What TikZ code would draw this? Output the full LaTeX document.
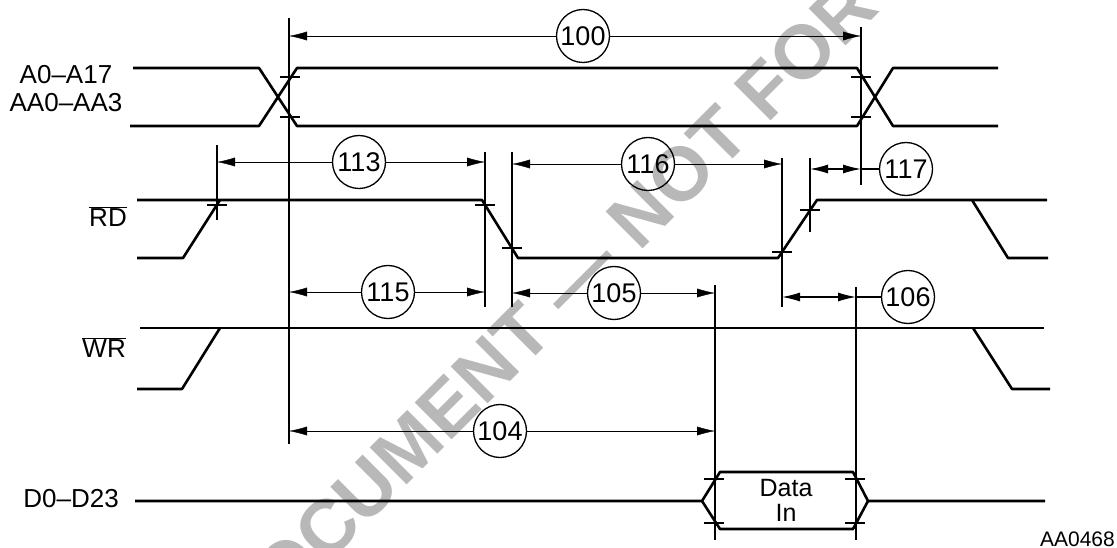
\documentclass[tikz,border=0pt]{standalone}
\usepackage{fontspec}
\setmainfont{Liberation Sans}
\usetikzlibrary{arrows.meta}

\newcommand{\ovl}[1]{$\overline{\mbox{#1}}$}

\begin{document}
\begin{tikzpicture}[x=1pt, y=-1pt, >={Latex[length=18pt, width=9pt]},
	sig/.style={line width=2.6pt, line join=round},
	guide/.style={line width=1.2pt},
	num/.style={circle, draw, line width=1.3pt, minimum size=53pt, inner sep=0pt, font=\fontsize{27}{27}\selectfont},
	lbl/.style={font=\fontsize{26}{28}\selectfont, inner sep=0pt}]
	\useasboundingbox (0,0) rectangle (1117,548);
	% watermark
	\node[rotate=45, text=black!28, font=\fontsize{76}{76}\selectfont\bfseries] (mark) at (545,310) {DOCUMENT --- NOT FOR};

	% signal names
	\node[lbl, align=center] (addr) at (66,89) {A0--A17\\AA0--AA3};
	\node[lbl, anchor=east] (rd) at (127,217) {\ovl{RD}};
	\node[lbl, anchor=east] (wr) at (126,348) {\ovl{WR}};
	\node[lbl, anchor=east] (dbus) at (119,499) {D0--D23};

	% address bus
	\draw[sig] (133,68) -- (259,68) -- (297,126) -- (857,126) -- (893,68) -- (998,68);
	\draw[sig] (130,126) -- (259,126) -- (297,68) -- (857,68) -- (893,126) -- (998,126);
	% RD
	\draw[sig] (137,258) -- (183,258) -- (220,200);
	\draw[sig] (137,200) -- (482,200) -- (518,258) -- (778,258) -- (817,200) -- (1047,200);
	\draw[sig] (972,200) -- (1008,258) -- (1048,258);
	% WR
	\draw[sig] (137,389) -- (182,389) -- (220,328);
	\draw[sig] (140,328) -- (1044,328);
	\draw[sig] (973,328) -- (1012,389) -- (1050,389);
	% data bus
	\draw[sig] (135,501) -- (702,501) -- (720,472) -- (853,472) -- (868,501) -- (1045,501);
	\draw[sig] (702,501) -- (720,529) -- (853,529) -- (868,501);
	\node[lbl, font=\fontsize{25}{25}\selectfont, align=center] (din) at (786,500) {Data\\In};

	% reference lines
	\foreach \x/\ya/\yb in {289/18/444, 217/145/220, 485/152/307, 512/152/307,
		782/158/307, 810/158/232, 861/27/185, 715/285/540, 856/287/540}
		\draw[guide] (\x,\ya) -- (\x,\yb);
	% crossing marks
	\foreach \x/\y in {290/77, 290/117, 861/77, 861/117, 217/205, 485/205, 512/248,
		782/252, 810/210, 714/479, 714/523, 855/479, 855/523}
		\draw[guide] (\x-10,\y) -- (\x+10,\y);

	% timings
	\node[num] (n100) at (583,36) {100};
	\draw[->] (n100) -- (289,36);
	\draw[->] (n100) -- (861,36);
	\node[num] (n113) at (359,162) {113};
	\draw[->] (n113) -- (217,162);
	\draw[->] (n113) -- (485,162);
	\node[num] (n116) at (648,164) {116};
	\draw[->] (n116) -- (512,164);
	\draw[->] (n116) -- (782,164);
	\coordinate (e117) at (861,169);
	\node[num] (n117) at (906,169) {117};
	\draw[<->, guide] (810,169) -- (e117);
	\draw[guide] (e117) -- (n117);
	\node[num] (n115) at (388,292) {115};
	\draw[->] (n115) -- (289,292);
	\draw[->] (n115) -- (485,292);
	\node[num] (n105) at (614,293) {105};
	\draw[->] (n105) -- (512,293);
	\draw[->] (n105) -- (715,293);
	\coordinate (e106) at (856,297);
	\node[num] (n106) at (908,297) {106};
	\draw[<->, guide] (782,297) -- (e106);
	\draw[guide] (e106) -- (n106);
	\node[num] (n104) at (500,431) {104};
	\draw[->] (n104) -- (289,431);
	\draw[->] (n104) -- (715,431);

	\node[font=\fontsize{21}{21}\selectfont, anchor=base east, inner sep=0pt] (fig) at (1115,546) {AA0468};
\end{tikzpicture}
\end{document}
